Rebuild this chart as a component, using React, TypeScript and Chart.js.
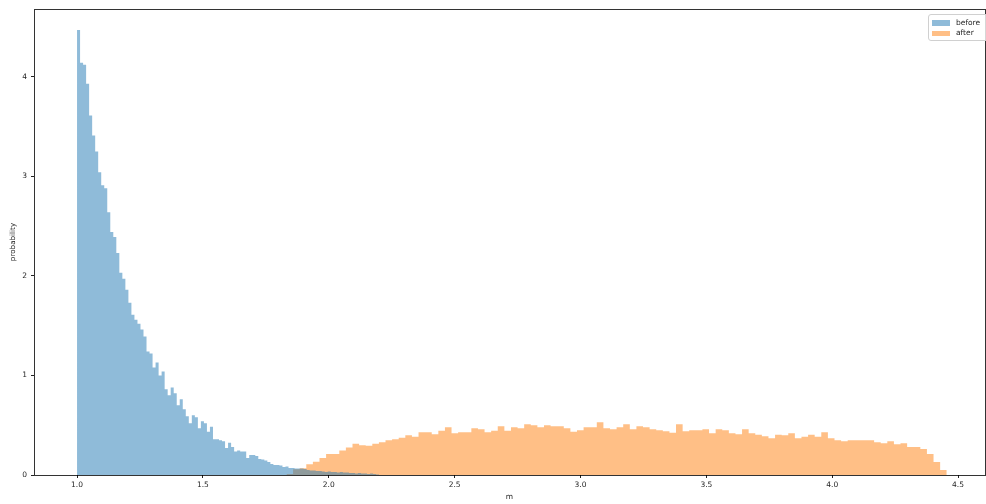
import React, { useEffect, useRef } from "react";
import { Chart, registerables } from "chart.js";

Chart.register(...registerables);

// Histogram "before": 100 bins starting at 1.0
const beforeStart = 1.0;
const beforeBinWidth = 0.012;
const beforeHeights = [
  4.47, 4.14, 4.12, 3.93, 3.61, 3.41, 3.25, 3.04, 2.91, 2.88,
  2.64, 2.44, 2.39, 2.23, 2.03, 1.97, 1.86, 1.73, 1.61, 1.56,
  1.52, 1.46, 1.39, 1.24, 1.22, 1.08, 1.13, 1.0, 1.04, 0.86,
  0.8, 0.88, 0.82, 0.7, 0.76, 0.66, 0.59, 0.52, 0.6, 0.58,
  0.47, 0.54, 0.52, 0.435, 0.485, 0.36, 0.36, 0.35, 0.34, 0.27,
  0.325, 0.28, 0.235, 0.245, 0.235, 0.235, 0.17, 0.2, 0.2, 0.19,
  0.16, 0.155, 0.145, 0.13, 0.11, 0.1, 0.1, 0.095, 0.08, 0.085,
  0.07, 0.07, 0.065, 0.065, 0.065, 0.06, 0.05, 0.045, 0.045, 0.04,
  0.04, 0.035, 0.03, 0.035, 0.03, 0.03, 0.025, 0.03, 0.025, 0.025,
  0.02, 0.02, 0.015, 0.02, 0.015, 0.015, 0.01, 0.015, 0.01, 0.005,
];

// Histogram "after": 100 bins
const afterStart = 1.832;
const afterBinWidth = 0.02623;
const afterHeights = [
  0.01, 0.057, 0.067, 0.107, 0.134, 0.17, 0.21, 0.21, 0.245, 0.275,
  0.315, 0.3, 0.295, 0.315, 0.33, 0.35, 0.36, 0.375, 0.4, 0.385,
  0.43, 0.43, 0.41, 0.445, 0.48, 0.42, 0.43, 0.43, 0.47, 0.46,
  0.43, 0.445, 0.49, 0.445, 0.48, 0.47, 0.51, 0.5, 0.48, 0.5,
  0.49, 0.49, 0.47, 0.435, 0.45, 0.48, 0.48, 0.53, 0.47, 0.46,
  0.48, 0.51, 0.46, 0.49, 0.48, 0.46, 0.45, 0.44, 0.425, 0.51,
  0.44, 0.45, 0.45, 0.46, 0.42, 0.46, 0.45, 0.42, 0.41, 0.46,
  0.42, 0.405, 0.39, 0.37, 0.405, 0.4, 0.42, 0.37, 0.385, 0.405,
  0.385, 0.43, 0.37, 0.35, 0.34, 0.35, 0.35, 0.35, 0.35, 0.33,
  0.32, 0.34, 0.31, 0.32, 0.28, 0.28, 0.26, 0.21, 0.13, 0.05,
];

const seriesNames = ["before", "after"];
const xTickValues = [1.0, 1.5, 2.0, 2.5, 3.0, 3.5, 4.0, 4.5];
const yTickValues = [0, 1, 2, 3, 4];
const xLabel = "m";
const yLabel = "probability";

const BLUE = "rgba(31,119,180,0.5)";
const ORANGE = "rgba(255,127,14,0.5)";
const FONT = "'DejaVu Sans', sans-serif";
const TEXT = "#262626";

function histPoints(start: number, width: number, heights: number[]) {
  const pts = heights.map((h, i) => ({ x: start + width * i, y: h }));
  pts.push({ x: start + width * heights.length, y: heights[heights.length - 1] });
  return pts;
}

const spinesPlugin = {
  id: "spines",
  afterDraw(chart: any) {
    const { ctx, chartArea } = chart;
    ctx.save();
    ctx.strokeStyle = "rgba(0,0,0,0.8)";
    ctx.lineWidth = 1;
    ctx.strokeRect(
      Math.round(chartArea.left) + 0.5,
      Math.round(chartArea.top) + 0.5,
      Math.round(chartArea.right - chartArea.left),
      Math.round(chartArea.bottom - chartArea.top)
    );
    ctx.restore();
  },
};

export default function App() {
  const ref = useRef<HTMLCanvasElement>(null);

  useEffect(() => {
    if (!ref.current) return;
    const chart = new Chart(ref.current, {
      type: "line",
      data: {
        datasets: [
          {
            label: seriesNames[0],
            data: histPoints(beforeStart, beforeBinWidth, beforeHeights),
            stepped: "before",
            fill: "origin",
            backgroundColor: BLUE,
            borderColor: "rgba(0,0,0,0)",
            borderWidth: 0,
            pointRadius: 0,
          },
          {
            label: seriesNames[1],
            data: histPoints(afterStart, afterBinWidth, afterHeights),
            stepped: "before",
            fill: "origin",
            backgroundColor: ORANGE,
            borderColor: "rgba(0,0,0,0)",
            borderWidth: 0,
            pointRadius: 0,
          },
        ],
      },
      options: {
        responsive: false,
        animation: false,
        devicePixelRatio: 1,
        layout: { padding: { top: 9, right: 1, left: 0, bottom: 0 } },
        plugins: {
          legend: { display: false },
          tooltip: { enabled: false },
        },
        scales: {
          x: {
            type: "linear",
            min: 0.829,
            max: 4.607,
            afterFit: (s: any) => {
              s.height = 29;
            },
            afterBuildTicks: (s: any) => {
              s.ticks = xTickValues.map((v) => ({ value: v }));
            },
            ticks: {
              includeBounds: false,
              callback: (v: any) => Number(v).toFixed(1),
              font: { family: FONT, size: 7.5 },
              color: TEXT,
              padding: 3,
              maxRotation: 0,
            },
            grid: {
              display: true,
              drawOnChartArea: false,
              drawTicks: true,
              tickLength: 3,
              color: "#222",
              lineWidth: 1,
            },
            border: { display: false },
            title: {
              display: true,
              text: xLabel,
              font: { family: FONT, size: 7.5 },
              color: TEXT,
              padding: { top: 0, bottom: 2.5 },
            },
          },
          y: {
            type: "linear",
            min: 0,
            max: 4.68,
            afterFit: (s: any) => {
              s.width = 34;
            },
            afterBuildTicks: (s: any) => {
              s.ticks = yTickValues.map((v) => ({ value: v }));
            },
            ticks: {
              includeBounds: false,
              callback: (v: any) => String(v),
              font: { family: FONT, size: 7.5 },
              color: TEXT,
              padding: 4,
            },
            grid: {
              display: true,
              drawOnChartArea: false,
              drawTicks: true,
              tickLength: 3,
              color: "#222",
              lineWidth: 1,
            },
            border: { display: false },
            title: {
              display: true,
              text: yLabel,
              font: { family: FONT, size: 7.2 },
              color: TEXT,
              padding: { top: 8.5, bottom: 0 },
            },
          },
        },
      },
      plugins: [spinesPlugin],
    } as any);
    return () => chart.destroy();
  }, []);

  const legendRow = (color: string, text: string) => (
    <div style={{ display: "flex", alignItems: "center", height: 10.5 }}>
      <div style={{ width: 18, height: 5.5, background: color, marginRight: 6 }} />
      <span>{text}</span>
    </div>
  );

  return (
    <div style={{ position: "fixed", left: 0, top: 0, width: 986, height: 504, background: "#fff" }}>
      <canvas ref={ref} width={986} height={504} style={{ width: 986, height: 504, display: "block" }} />
      <div
        style={{
          position: "absolute",
          left: 928,
          top: 14,
          width: 62,
          height: 27,
          padding: "2.5px 0 0 3px",
          border: "1px solid #d0d0d0",
          borderRadius: 3,
          background: "rgba(255,255,255,0.8)",
          fontFamily: FONT,
          fontSize: 7.5,
          color: TEXT,
          lineHeight: "10px",
          boxSizing: "border-box",
        }}
      >
        {legendRow(BLUE, seriesNames[0])}
        {legendRow(ORANGE, seriesNames[1])}
      </div>
    </div>
  );
}
